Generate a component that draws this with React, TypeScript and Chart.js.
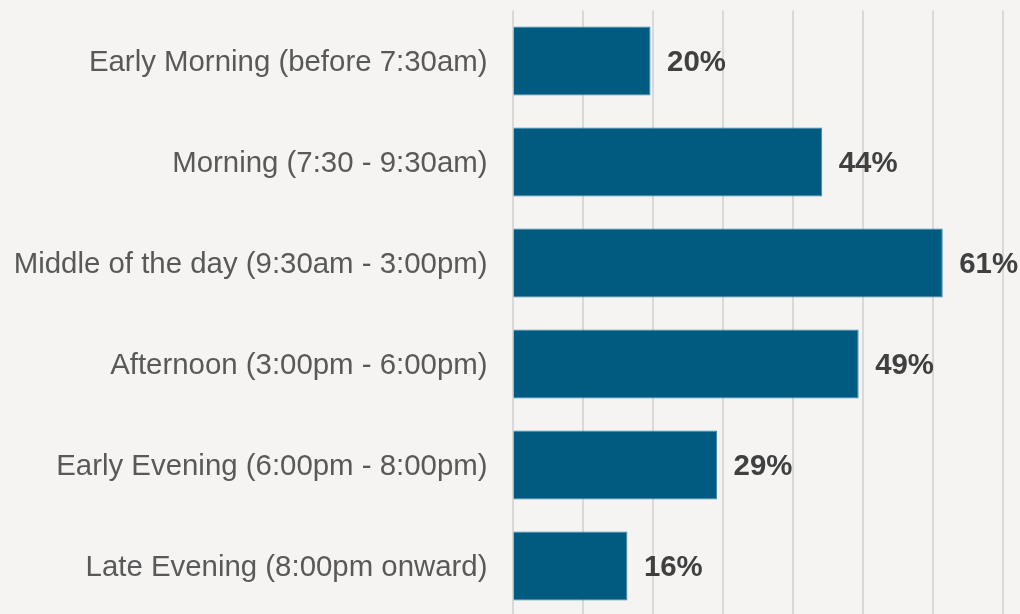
import React, { useEffect, useRef } from "react";
import { Chart, registerables } from "chart.js";

Chart.register(...registerables);

const categories = [
  "Early Morning (before 7:30am)",
  "Morning (7:30 - 9:30am)",
  "Middle of the day (9:30am - 3:00pm)",
  "Afternoon (3:00pm - 6:00pm)",
  "Early Evening (6:00pm - 8:00pm)",
  "Late Evening (8:00pm onward)",
];
const values = [19.7, 44.2, 61.4, 49.4, 29.2, 16.4];
const valueLabels = ["20%", "44%", "61%", "49%", "29%", "16%"];

const FONT = "'Liberation Sans', Arial, sans-serif";

const bgPlugin = {
  id: "bg",
  beforeDraw(chart: any) {
    const { ctx, width, height } = chart;
    ctx.save();
    ctx.fillStyle = "#f5f4f2";
    ctx.fillRect(0, 0, width, height);
    ctx.restore();
  },
};

const labelPlugin = {
  id: "valueLabels",
  afterDatasetsDraw(chart: any) {
    const { ctx } = chart;
    const meta = chart.getDatasetMeta(0);
    ctx.save();
    ctx.font = `bold 29.4px ${FONT}`;
    ctx.fillStyle = "#404040";
    ctx.textAlign = "left";
    ctx.textBaseline = "middle";
    meta.data.forEach((bar: any, i: number) => {
      ctx.fillText(valueLabels[i], bar.x + 16.5, bar.y + 1.5);
    });
    ctx.restore();
  },
};

export default function App() {
  const ref = useRef<HTMLCanvasElement>(null);
  useEffect(() => {
    if (!ref.current) return;
    const chart = new Chart(ref.current, {
      type: "bar",
      data: {
        labels: categories,
        datasets: [
          {
            data: values,
            backgroundColor: "#015a80",
            borderColor: "#3b86ad",
            borderWidth: 1,
            barPercentage: 0.683,
            categoryPercentage: 1,
          },
        ],
      },
      options: {
        indexAxis: "y",
        animation: false,
        responsive: false,
        maintainAspectRatio: false,
        layout: { padding: { top: 10.5, right: 17, bottom: 3.5, left: 0 } },
        plugins: { legend: { display: false }, tooltip: { enabled: false } },
        scales: {
          x: {
            min: 0,
            max: 70,
            ticks: { display: false, stepSize: 10 },
            grid: { color: "#d9d9d9", lineWidth: 2, drawTicks: false },
            border: { display: false },
          },
          y: {
            grid: { display: false, drawTicks: false },
            border: { display: false },
            ticks: {
              color: "#595959",
              font: { family: FONT, size: 29.4 },
              padding: 25,
              labelOffset: 1.5,
            },
            afterFit(scale: any) {
              scale.width = 512.5;
              scale.paddingTop = 0;
              scale.paddingBottom = 0;
            },
          },
        },
      },
      plugins: [bgPlugin, labelPlugin],
    });
    return () => chart.destroy();
  }, []);
  return (
    <canvas
      ref={ref}
      width={1020}
      height={620}
      style={{ position: "fixed", left: 0, top: 0, width: 1020, height: 620 }}
    />
  );
}
